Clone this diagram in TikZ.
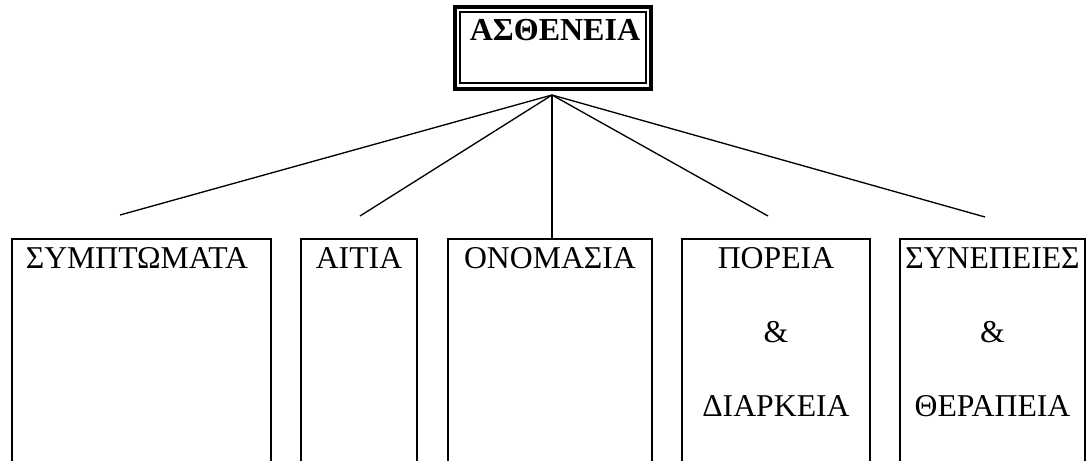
\documentclass[tikz,border=0pt]{standalone}
\usepackage{fontspec}
\setmainfont{Liberation Serif}
\begin{document}
\begin{tikzpicture}[x=0.75pt,y=-0.75pt,
  frame/.style={draw, line width=1pt, inner sep=0pt, outer sep=0pt,
    anchor=north west, minimum height=180.75pt},
  outerframe/.style={draw, line width=3pt, inner sep=0pt, outer sep=0pt},
  innerframe/.style={draw, line width=1.5pt, inner sep=0pt, outer sep=0pt},
  txt/.style={anchor=base, inner sep=0pt, font=\fontsize{23.8pt}{28pt}\selectfont},
  headtxt/.style={anchor=base, inner sep=0pt, font=\fontsize{24pt}{28pt}\selectfont\bfseries},
  link/.style={line width=1pt}]
\useasboundingbox (0,0) rectangle (1090,461);

% heading box with a double frame
\node[outerframe, minimum width=147pt, minimum height=61.125pt] (title) at (553,47.75) {};
\node[innerframe, minimum width=139.5pt, minimum height=53.25pt] (titlein) at (553,47.5) {};
\node[headtxt] (titletxt) at (555,40) {ΑΣΘΕΝΕΙΑ};

% category boxes (open at the bottom edge of the page)
\node[frame, minimum width=194.25pt] (b1) at (12,239) {};
\node[frame, minimum width=87pt]     (b2) at (301,239) {};
\node[frame, minimum width=153pt]    (b3) at (448,239) {};
\node[frame, minimum width=141pt]    (b4) at (682,239) {};
\node[frame, minimum width=138.75pt] (b5) at (900,239) {};

% box labels
\node[txt] (t1)  at (137,268) {ΣΥΜΠΤΩΜΑΤΑ};
\node[txt] (t2)  at (359,268)   {ΑΙΤΙΑ};
\node[txt] (t3)  at (550,268)   {ΟΝΟΜΑΣΙΑ};
\node[txt] (t4a) at (776,268)   {ΠΟΡΕΙΑ};
\node[txt] (t4b) at (776,342)   {\&};
\node[txt] (t4c) at (776,416)   {ΔΙΑΡΚΕΙΑ};
\node[txt] (t5a) at (992.5,268) {ΣΥΝΕΠΕΙΕΣ};
\node[txt] (t5b) at (992.5,342) {\&};
\node[txt] (t5c) at (992.5,416) {ΘΕΡΑΠΕΙΑ};

% fan of connectors from below the heading
\coordinate (apex) at (552,95);
\coordinate (e1) at (120,215);
\coordinate (e2) at (360,216);
\coordinate (e4) at (768,216);
\coordinate (e5) at (985,217);
\draw[link] (apex) -- (e1);
\draw[link] (apex) -- (e2);
\draw[link] (apex) -- (b3.north -| apex);
\draw[link] (apex) -- (e4);
\draw[link] (apex) -- (e5);
\end{tikzpicture}
\end{document}
